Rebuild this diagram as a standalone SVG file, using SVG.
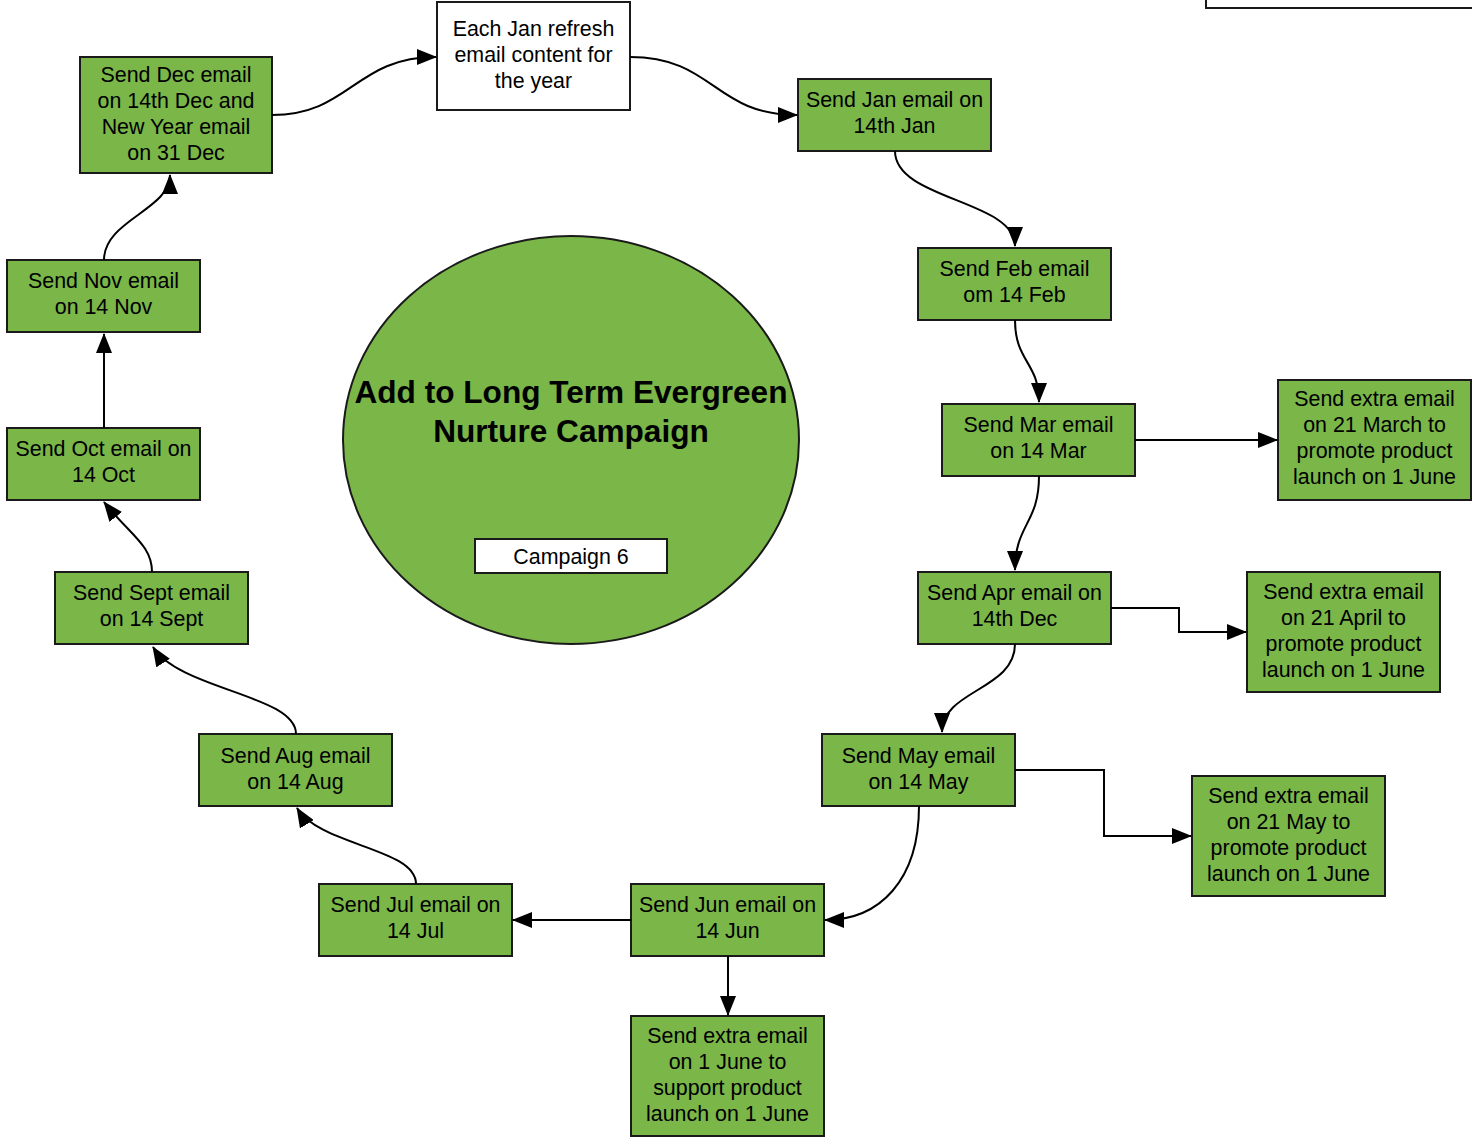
<svg xmlns="http://www.w3.org/2000/svg" width="1472" height="1144" viewBox="0 0 1472 1144">
<defs>
<marker id="arr" viewBox="0 0 20 16" refX="19" refY="8" markerWidth="20" markerHeight="16" orient="auto" markerUnits="userSpaceOnUse"><path d="M0,0 L20,8 L0,16 z" fill="#000"/></marker>
<style>
.n{fill:#7ab648;stroke:#1a1a1a;stroke-width:2}
.w{fill:#fff;stroke:#1a1a1a;stroke-width:2}
.t{font-family:"Liberation Sans",Arial,sans-serif;font-size:21.4px;fill:#000;text-anchor:middle;dominant-baseline:central}
.b{font-family:"Liberation Sans",Arial,sans-serif;font-size:31.6px;font-weight:bold;fill:#000;text-anchor:middle;dominant-baseline:central}
.c{fill:none;stroke:#000;stroke-width:2;marker-end:url(#arr)}
</style>
</defs>
<rect width="1472" height="1144" fill="#fff"/>
<rect x="1206" y="-10" width="280" height="18" class="w"/>

<g id="center">
<ellipse cx="571" cy="440" rx="228" ry="204" class="n"/>
<text class="b" x="571" y="392">Add to Long Term Evergreen</text>
<text class="b" x="571" y="431">Nurture Campaign</text>
<rect x="475" y="539" width="192" height="34" class="w"/>
<text class="t" x="571" y="557">Campaign 6</text>
</g>

<g id="refresh"><rect x="437" y="2" width="193" height="108" class="w"/>
<text class="t" x="533.5" y="29">Each Jan refresh</text><text class="t" x="533.5" y="55">email content for</text><text class="t" x="533.5" y="81">the year</text></g>

<g id="dec"><rect x="80" y="57" width="192" height="116" class="n"/>
<text class="t" x="176" y="75">Send Dec email</text><text class="t" x="176" y="101">on 14th Dec and</text><text class="t" x="176" y="127">New Year email</text><text class="t" x="176" y="153">on 31 Dec</text></g>

<g id="jan"><rect x="798" y="79" width="193" height="72" class="n"/>
<text class="t" x="894.5" y="100">Send Jan email on</text><text class="t" x="894.5" y="126">14th Jan</text></g>

<g id="feb"><rect x="918" y="248" width="193" height="72" class="n"/>
<text class="t" x="1014.5" y="269">Send Feb email</text><text class="t" x="1014.5" y="295">om 14 Feb</text></g>

<g id="mar"><rect x="942" y="404" width="193" height="72" class="n"/>
<text class="t" x="1038.5" y="425">Send Mar email</text><text class="t" x="1038.5" y="451">on 14 Mar</text></g>

<g id="extra-mar"><rect x="1278" y="380" width="193" height="120" class="n"/>
<text class="t" x="1374.5" y="399">Send extra email</text><text class="t" x="1374.5" y="425">on 21 March to</text><text class="t" x="1374.5" y="451">promote product</text><text class="t" x="1374.5" y="477">launch on 1 June</text></g>

<g id="apr"><rect x="918" y="572" width="193" height="72" class="n"/>
<text class="t" x="1014.5" y="593">Send Apr email on</text><text class="t" x="1014.5" y="619">14th Dec</text></g>

<g id="extra-apr"><rect x="1247" y="572" width="193" height="120" class="n"/>
<text class="t" x="1343.5" y="592">Send extra email</text><text class="t" x="1343.5" y="618">on 21 April to</text><text class="t" x="1343.5" y="644">promote product</text><text class="t" x="1343.5" y="670">launch on 1 June</text></g>

<g id="may"><rect x="822" y="734" width="193" height="72" class="n"/>
<text class="t" x="918.5" y="756">Send May email</text><text class="t" x="918.5" y="782">on 14 May</text></g>

<g id="extra-may"><rect x="1192" y="776" width="193" height="120" class="n"/>
<text class="t" x="1288.5" y="796">Send extra email</text><text class="t" x="1288.5" y="822">on 21 May to</text><text class="t" x="1288.5" y="848">promote product</text><text class="t" x="1288.5" y="874">launch on 1 June</text></g>

<g id="jun"><rect x="631" y="884" width="193" height="72" class="n"/>
<text class="t" x="727.5" y="905">Send Jun email on</text><text class="t" x="727.5" y="931">14 Jun</text></g>

<g id="extra-jun"><rect x="631" y="1016" width="193" height="120" class="n"/>
<text class="t" x="727.5" y="1036">Send extra email</text><text class="t" x="727.5" y="1062">on 1 June to</text><text class="t" x="727.5" y="1088">support product</text><text class="t" x="727.5" y="1114">launch on 1 June</text></g>

<g id="jul"><rect x="319" y="884" width="193" height="72" class="n"/>
<text class="t" x="415.5" y="905">Send Jul email on</text><text class="t" x="415.5" y="931">14 Jul</text></g>

<g id="aug"><rect x="199" y="734" width="193" height="72" class="n"/>
<text class="t" x="295.5" y="756">Send Aug email</text><text class="t" x="295.5" y="782">on 14 Aug</text></g>

<g id="sept"><rect x="55" y="572" width="193" height="72" class="n"/>
<text class="t" x="151.5" y="593">Send Sept email</text><text class="t" x="151.5" y="619">on 14 Sept</text></g>

<g id="oct"><rect x="7" y="428" width="193" height="72" class="n"/>
<text class="t" x="103.5" y="449">Send Oct email on</text><text class="t" x="103.5" y="475">14 Oct</text></g>

<g id="nov"><rect x="7" y="260" width="193" height="72" class="n"/>
<text class="t" x="103.5" y="281">Send Nov email</text><text class="t" x="103.5" y="307">on 14 Nov</text></g>

<g id="connectors">
<path class="c" d="M272,115 C350,115 355,57 436,57"/>
<path class="c" d="M630,57 C714,57 714,115 797,115"/>
<path class="c" d="M895,151 C895,200 1015,200 1015,246"/>
<path class="c" d="M1015,320 C1015,362 1039,362 1039,402"/>
<path class="c" d="M1135,440 L1277,440"/>
<path class="c" d="M1039,476 C1039,524 1015,524 1015,570"/>
<path class="c" d="M1111,608 L1179,608 L1179,632 L1246,632"/>
<path class="c" d="M1015,644 C1015,690 942,690 942,732"/>
<path class="c" d="M1015,770 L1104,770 L1104,836 L1191,836"/>
<path class="c" d="M919,806 C919,880 880,920 825,920"/>
<path class="c" d="M631,920 L513,920"/>
<path class="c" d="M728,956 L728,1015"/>
<path class="c" d="M416,884 C416,848 320,846 297,808"/>
<path class="c" d="M296,734 C296,695 180,690 153,647"/>
<path class="c" d="M152,572 C152,545 130,535 104,502"/>
<path class="c" d="M104,428 L104,334"/>
<path class="c" d="M104,260 C104,220 170,210 170,175"/>
</g>
</svg>
